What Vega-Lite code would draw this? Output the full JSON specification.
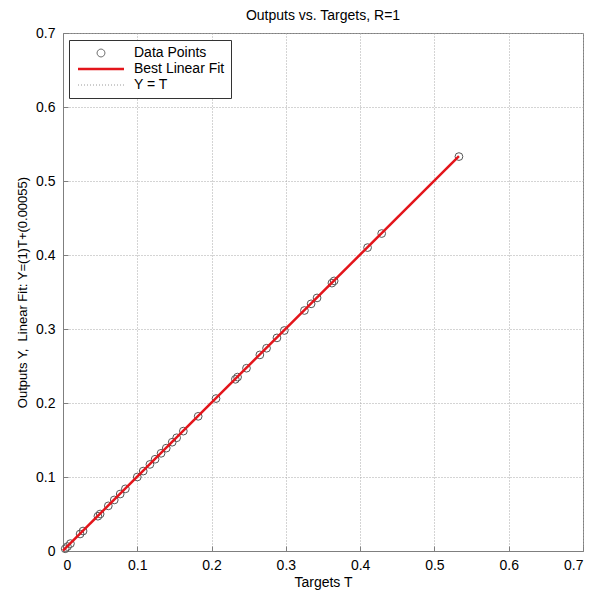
{
  "$schema": "https://vega.github.io/schema/vega-lite/v6.json",
  "width": 520,
  "height": 518,
  "autosize": "none",
  "padding": {"left": 63, "top": 33, "right": 9, "bottom": 44},
  "background": "white",
  "title": {"text": "Outputs vs. Targets, R=1", "fontSize": 14, "fontWeight": "normal", "font": "Liberation Sans", "color": "black", "offset": 3},
  "config": {
    "font": "Liberation Sans",
    "view": {"stroke": "#7f7f7f", "strokeWidth": 1},
    "axis": {
      "labelFont": "Liberation Sans", "labelFontSize": 14, "labelColor": "black",
      "titleFont": "Liberation Sans", "titleFontSize": 14, "titleFontWeight": "normal", "titleColor": "black",
      "domainColor": "#7f7f7f", "tickColor": "#7f7f7f", "tickSize": -5,
      "gridColor": "#a8a8a8", "gridDash": [1, 2], "gridWidth": 1
    }
  },
  "datasets": {
    "pts": [
      {"T": 0.003, "Y": 0.003}, {"T": 0.006, "Y": 0.006}, {"T": 0.01, "Y": 0.01}, {"T": 0.023, "Y": 0.023}, {"T": 0.027, "Y": 0.027},
      {"T": 0.047, "Y": 0.047}, {"T": 0.05, "Y": 0.05}, {"T": 0.061, "Y": 0.061}, {"T": 0.069, "Y": 0.069}, {"T": 0.077, "Y": 0.077},
      {"T": 0.084, "Y": 0.084}, {"T": 0.1, "Y": 0.1}, {"T": 0.108, "Y": 0.108}, {"T": 0.117, "Y": 0.117}, {"T": 0.124, "Y": 0.124},
      {"T": 0.132, "Y": 0.132}, {"T": 0.139, "Y": 0.139}, {"T": 0.147, "Y": 0.147}, {"T": 0.153, "Y": 0.153}, {"T": 0.162, "Y": 0.162},
      {"T": 0.182, "Y": 0.182}, {"T": 0.206, "Y": 0.206}, {"T": 0.232, "Y": 0.232}, {"T": 0.235, "Y": 0.235}, {"T": 0.247, "Y": 0.247},
      {"T": 0.265, "Y": 0.265}, {"T": 0.274, "Y": 0.274}, {"T": 0.288, "Y": 0.288}, {"T": 0.298, "Y": 0.298}, {"T": 0.325, "Y": 0.325},
      {"T": 0.334, "Y": 0.334}, {"T": 0.342, "Y": 0.342}, {"T": 0.362, "Y": 0.362}, {"T": 0.365, "Y": 0.365}, {"T": 0.41, "Y": 0.41},
      {"T": 0.429, "Y": 0.429}, {"T": 0.533, "Y": 0.533}
    ],
    "fit": [{"T": 0.0, "Y": 0.00055}, {"T": 0.533, "Y": 0.53355}],
    "ident": [{"T": 0.0, "Y": 0.0}, {"T": 0.533, "Y": 0.533}]
  },
  "layer": [
    {
      "data": {"name": "ident"},
      "mark": {"type": "line", "strokeDash": [1, 2], "strokeWidth": 1},
      "encoding": {
        "x": {"field": "T", "type": "quantitative", "scale": {"domain": [0, 0.7], "nice": false},
          "axis": {"orient": "bottom", "title": "Targets T", "values": [0, 0.1, 0.2, 0.3, 0.4, 0.5, 0.6, 0.7], "labelExpr": "datum.value == 0 ? '0' : format(datum.value, '.1f')", "labelPadding": 12, "titlePadding": 3}},
        "y": {"field": "Y", "type": "quantitative", "scale": {"domain": [0, 0.7], "nice": false},
          "axis": {"orient": "left", "title": "Outputs Y,\u00a0 Linear Fit: Y=(1)T+(0.00055)", "titleFontSize": 13, "values": [0, 0.1, 0.2, 0.3, 0.4, 0.5, 0.6, 0.7], "labelExpr": "datum.value == 0 ? '0' : format(datum.value, '.1f')", "labelPadding": 13, "titlePadding": 6}},
        "color": {"datum": "Y = T", "type": "nominal",
          "scale": {"domain": ["Data Points", "Best Linear Fit", "Y = T"], "range": ["#555555", "#e3151b", "#9a9a9a"]},
          "legend": {
            "title": null, "orient": "none", "legendX": 6, "legendY": 7,
            "fillColor": "white", "strokeColor": "#333333", "padding": 6,
            "labelFontSize": 14, "labelFont": "Liberation Sans", "labelColor": "black",
            "symbolSize": 100, "symbolOffset": 19, "labelOffset": 26, "rowPadding": 2,
            "encode": {
              "symbols": {"update": {
                "shape": {"signal": "datum.value === 'Data Points' ? 'circle' : 'stroke'"},
                "size": {"signal": "datum.value === 'Data Points' ? 60 : 2116"},
                "fill": {"value": "transparent"},
                "fillOpacity": {"value": 0},
                "stroke": {"signal": "datum.value === 'Data Points' ? '#555555' : (datum.value === 'Best Linear Fit' ? '#e3151b' : '#9a9a9a')"},
                "strokeWidth": {"signal": "datum.value === 'Best Linear Fit' ? 2.5 : 1"},
                "strokeDash": {"signal": "datum.value === 'Y = T' ? [1, 2] : [1, 0]"},
                "opacity": {"value": 1}
              }}
            }
          }}
      }
    },
    {
      "data": {"name": "pts"},
      "mark": {"type": "point", "filled": false, "size": 60, "strokeWidth": 1, "opacity": 1},
      "encoding": {
        "x": {"field": "T", "type": "quantitative"},
        "y": {"field": "Y", "type": "quantitative"},
        "color": {"datum": "Data Points", "type": "nominal"}
      }
    },
    {
      "data": {"name": "fit"},
      "mark": {"type": "line", "strokeWidth": 2.5},
      "encoding": {
        "x": {"field": "T", "type": "quantitative"},
        "y": {"field": "Y", "type": "quantitative"},
        "color": {"datum": "Best Linear Fit", "type": "nominal"}
      }
    }
  ]
}
